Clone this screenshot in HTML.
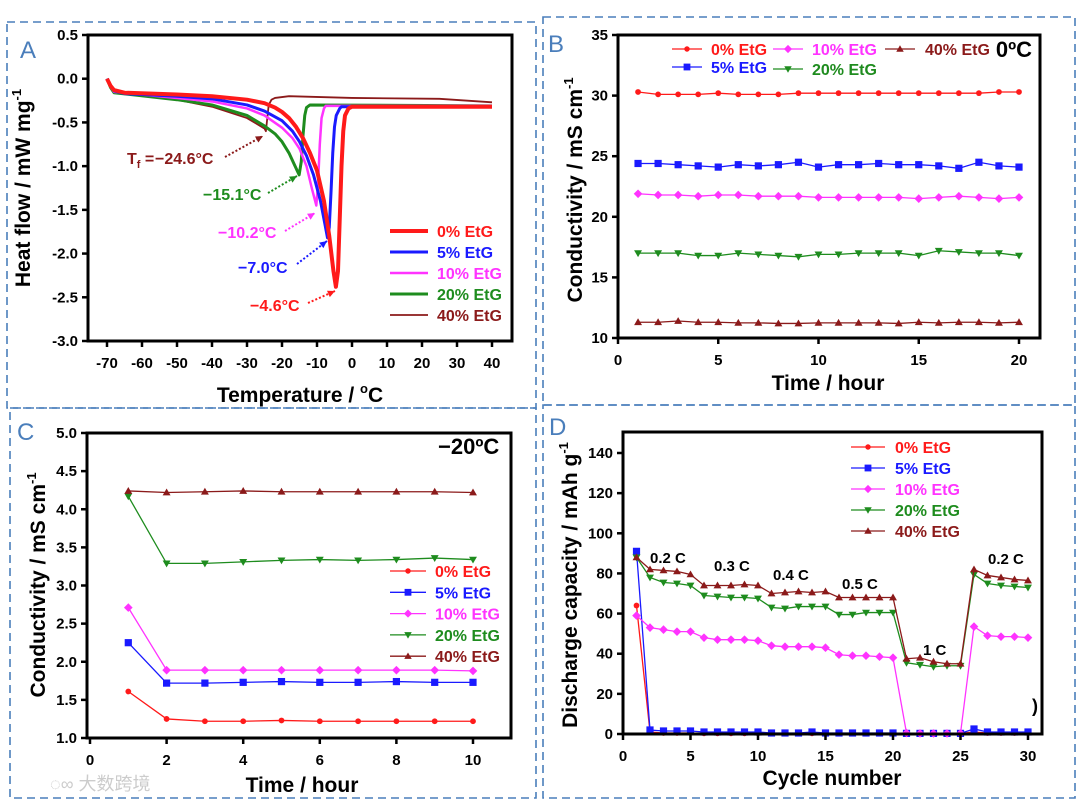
<!DOCTYPE html>
<html><head><meta charset="utf-8"><style>
html,body{margin:0;padding:0;background:#fff;}
svg{display:block;font-family:"Liberation Sans",Arial,sans-serif;}
</style></head><body>
<svg id="fig" width="1080" height="804" viewBox="0 0 1080 804" xmlns="http://www.w3.org/2000/svg">
<g fill="none" stroke="#4a7ebb" stroke-width="1.6" stroke-dasharray="8,5">
<rect x="7" y="22" width="529" height="386"/>
<rect x="543" y="17" width="532" height="388"/>
<rect x="10" y="408" width="526" height="390"/>
<rect x="543" y="405" width="532" height="393"/>
</g>
<g font-size="24" fill="#4a7ebb">
<text x="20" y="58">A</text>
<text x="548" y="52">B</text>
<text x="17" y="440">C</text>
<text x="549" y="435">D</text>
</g>
<text x="50" y="790" font-size="18" fill="#ccc" font-family="'Liberation Sans','Noto Sans CJK SC',sans-serif">◌∞ 大数跨境</text>
</svg>
<script>
// ---------- Panel A data (DSC) ----------
const aSeries = ["0% EtG","5% EtG","10% EtG","20% EtG","40% EtG"];
const aT0  = [-70,-69,-68,-65,-50,-40,-30,-25,-22,-20,-18,-16,-14,-12,-10,-8,-6.5,-5.3,-4.6,-4,-3.5,-3,-2.5,-2,-1,0,40];
const aH0  = [0,-0.08,-0.13,-0.16,-0.18,-0.2,-0.24,-0.28,-0.33,-0.38,-0.45,-0.55,-0.68,-0.85,-1.05,-1.4,-1.8,-2.2,-2.38,-2.2,-1.6,-1.0,-0.6,-0.42,-0.34,-0.32,-0.32];
const aT5  = [-70,-69,-68,-65,-50,-40,-30,-25,-20,-17,-15,-13,-11,-9,-7.8,-7,-6.5,-6,-5.5,-5,-4.5,-3.5,-3,40];
const aH5  = [0,-0.08,-0.14,-0.17,-0.2,-0.23,-0.3,-0.37,-0.48,-0.6,-0.72,-0.88,-1.1,-1.4,-1.65,-1.82,-1.7,-1.3,-0.85,-0.55,-0.42,-0.34,-0.32,-0.32];
const aT10 = [-70,-69,-68,-50,-40,-30,-25,-20,-17,-15,-13,-11.5,-10.2,-9.7,-9.2,-8.7,-8,-7.5,40];
const aH10 = [0,-0.09,-0.15,-0.22,-0.26,-0.34,-0.42,-0.56,-0.68,-0.8,-1.0,-1.25,-1.45,-1.2,-0.75,-0.45,-0.34,-0.31,-0.31];
const aT20 = [-70,-69,-68,-50,-40,-30,-25,-22,-20,-18,-16.5,-15.1,-14.5,-14,-13.5,-13,-12,40];
const aH20 = [0,-0.1,-0.16,-0.24,-0.3,-0.42,-0.54,-0.63,-0.72,-0.85,-0.98,-1.1,-0.95,-0.65,-0.42,-0.33,-0.3,-0.31];
const aT40 = [-70,-69,-68,-50,-40,-30,-25,-24.6,-24.2,-23.8,-23,-22,-18,0,25,40];
const aH40 = [0,-0.1,-0.16,-0.24,-0.32,-0.45,-0.57,-0.6,-0.45,-0.3,-0.24,-0.22,-0.2,-0.22,-0.23,-0.27];
const aXTicks = [-70,-60,-50,-40,-30,-20,-10,0,10,20,30,40];
const aYTicks = [0.5,0.0,-0.5,-1.0,-1.5,-2.0,-2.5,-3.0];
// ---------- Panel B data ----------
const bTime = [1,2,3,4,5,6,7,8,9,10,11,12,13,14,15,16,17,18,19,20];
const b0  = [30.3,30.1,30.1,30.1,30.2,30.1,30.1,30.1,30.2,30.2,30.2,30.2,30.2,30.2,30.2,30.2,30.2,30.2,30.3,30.3];
const b5  = [24.4,24.4,24.3,24.2,24.1,24.3,24.2,24.3,24.5,24.1,24.3,24.3,24.4,24.3,24.3,24.2,24.0,24.5,24.2,24.1];
const b10 = [21.9,21.8,21.8,21.7,21.8,21.8,21.7,21.7,21.7,21.6,21.6,21.6,21.6,21.6,21.5,21.6,21.7,21.6,21.5,21.6];
const b20 = [17.0,17.0,17.0,16.8,16.8,17.0,16.9,16.8,16.7,16.9,16.9,17.0,17.0,17.0,16.8,17.2,17.1,17.0,17.0,16.8];
const b40 = [11.3,11.3,11.4,11.3,11.3,11.25,11.25,11.2,11.2,11.25,11.25,11.25,11.25,11.2,11.3,11.25,11.3,11.3,11.25,11.3];
const bXTicks = [0,5,10,15,20];
const bYTicks = [10,15,20,25,30,35];
// ---------- Panel C data ----------
const cTime = [1,2,3,4,5,6,7,8,9,10];
const c0  = [1.61,1.25,1.22,1.22,1.23,1.22,1.22,1.22,1.22,1.22];
const c5  = [2.25,1.72,1.72,1.73,1.74,1.73,1.73,1.74,1.73,1.73];
const c10 = [2.71,1.89,1.89,1.89,1.89,1.89,1.89,1.89,1.89,1.88];
const c20 = [4.17,3.29,3.29,3.31,3.33,3.34,3.33,3.34,3.36,3.34];
const c40 = [4.24,4.22,4.23,4.24,4.23,4.23,4.23,4.23,4.23,4.22];
const cXTicks = [0,2,4,6,8,10];
const cYTicks = [1.0,1.5,2.0,2.5,3.0,3.5,4.0,4.5,5.0];
// ---------- Panel D data ----------
const dCycle = [1,2,3,4,5,6,7,8,9,10,11,12,13,14,15,16,17,18,19,20,21,22,23,24,25,26,27,28,29,30];
const d0  = [64,1,0.5,0.5,0.5,0.3,0.3,0.3,0.3,0.3,0.3,0.3,0.3,0.3,0.3,0.3,0.3,0.3,0.3,0.3,0.3,0.3,0.3,0.3,0.3,1,0.5,0.5,0.5,0.5];
const d5  = [91,2,1.5,1.5,1.5,1,1,1,1,1,0.5,0.5,0.5,1,0.5,0.5,0.5,0.5,0.5,0.5,0.3,0.3,0.3,0.3,0.3,2.5,1,1,1,1];
const d10 = [59,53,52,51,51,48,47,47,47,46.5,44,43.5,43.5,43.5,43,39.5,39,39,38.5,38,0.5,0.3,0.3,0.3,0.3,53.5,49,48.5,48.5,48];
const d20 = [88,78,75.5,75,74,69,68.5,68,68,67.5,63,62.5,63.5,63.5,63.5,59.5,59.5,60.5,60.5,60.5,35.5,34.5,33.5,34,34,79.5,75,74,73.5,73];
const d40 = [88,82,81.5,81,79.5,74,74,74,74.5,74,70,70.5,71,70.5,71,68,68,68,68,68,37.5,38,36,35,35,82,79,78,77,76.5];
const dXTicks = [0,5,10,15,20,25,30];
const dYTicks = [0,20,40,60,80,100,120,140];
const dRates = ["0.2 C","0.3 C","0.4 C","0.5 C","1 C","0.2 C"];

const NS = "http://www.w3.org/2000/svg";
const svg = document.getElementById("fig");
const COL = ["#ff1a1a","#1a1aff","#ff33ff","#1e8c1e","#8b1a1a"];
const MK = ["circle","square","diamond","down","up"];
function el(tag, attrs, parent){ const e=document.createElementNS(NS,tag); for(const k in attrs) e.setAttribute(k,attrs[k]); (parent||svg).appendChild(e); return e; }
function txt(s, attrs, parent){ const e=el("text",attrs,parent); e.textContent=s; return e; }
function scale(d0,d1,r0,r1){ return v => r0+(v-d0)*(r1-r0)/(d1-d0); }

function axes(g, box, xs, ys, xt, yt, fmtY, fmtX){
  const fr = el("rect",{x:box.x0,y:box.y0,width:box.x1-box.x0,height:box.y1-box.y0,fill:"none",stroke:"#000","stroke-width":3},g);
  
  
  xt.forEach(v=>{
    const x=xs(v);
    el("line",{x1:x,x2:x,y1:box.y1,y2:box.y1+6,stroke:"#000","stroke-width":2.5},g);
    const t=txt(fmtX?fmtX(v):String(v),{x:x,y:box.y1+27,"text-anchor":"middle","font-size":15,"font-weight":"bold"},g);
    
    
  });
  yt.forEach(v=>{
    const y=ys(v);
    el("line",{x1:box.x0-6,x2:box.x0,y1:y,y2:y,stroke:"#000","stroke-width":2.5},g);
    const t=txt(fmtY(v),{x:box.x0-10,y:y+5,"text-anchor":"end","font-size":15,"font-weight":"bold"},g);
    
    
  });
}
function marker(g,type,x,y,c,s){
  let m;
  if(type==="circle") m=el("circle",{cx:x,cy:y,r:s*0.8,fill:c},g);
  else if(type==="square") m=el("rect",{x:x-s,y:y-s,width:2*s,height:2*s,fill:c},g);
  else if(type==="diamond") m=el("polygon",{points:`${x},${y-s*1.2} ${x+s*1.2},${y} ${x},${y+s*1.2} ${x-s*1.2},${y}`,fill:c},g);
  else if(type==="down") m=el("polygon",{points:`${x-s*1.1},${y-s*0.8} ${x+s*1.1},${y-s*0.8} ${x},${y+s*1.1}`,fill:c},g);
  else m=el("polygon",{points:`${x-s*1.1},${y+s*0.8} ${x+s*1.1},${y+s*0.8} ${x},${y-s*1.1}`,fill:c},g);
  return m;
}
function series(g, xsArr, ysArr, xs, ys, i, name){
  const sg=el("g",{},g);
  
  
  el("polyline",{points:xsArr.map((v,k)=>xs(v)+","+ys(ysArr[k])).join(" "),fill:"none",stroke:COL[i],"stroke-width":1.3},sg);
  xsArr.forEach((v,k)=>{
    const m=marker(sg,MK[i],xs(v),ys(ysArr[k]),COL[i],3.6);
    
    
  });
}
function legendRow(g,x1,x2,tx,y,i,label,withMarker,lw){
  const lg=el("g",{},g);
  
  
  el("line",{x1:x1,x2:x2,y1:y,y2:y,stroke:COL[i],"stroke-width":lw||1.3},lg);
  if(withMarker) marker(lg,MK[i],(x1+x2)/2,y,COL[i],3.4);
  txt(label,{x:tx,y:y+6,"font-size":16,"font-weight":"bold",fill:COL[i]},lg);
}
function ytitle(g,s,x,y,sup){
  const t=el("text",{x:0,y:0,transform:`translate(${x},${y}) rotate(-90)`,"text-anchor":"middle","font-size":21,"font-weight":"bold"},g);
  t.textContent=s;
  const ts=el("tspan",{dy:-9,"font-size":13},t); ts.textContent=sup;
  
  
}
function xtitle(g,s,x,y,sup){
  const t=el("text",{x:x,y:y,"text-anchor":"middle","font-size":21,"font-weight":"bold"},g);
  t.textContent=s;
  if(sup){ const ts=el("tspan",{dy:-9,"font-size":13},t); ts.textContent=sup; const t2=el("tspan",{dy:9},t); t2.textContent="C"; }
  
  
}

// ===== Panel A =====
(function(){
  const g=el("g",{});  
  const box={x0:88,x1:512,y0:35,y1:341};
  const xs=scale(-70,40,107,492), ys=scale(0.5,-3.0,35,341);
  const Ts=[aT0,aT5,aT10,aT20,aT40], Hs=[aH0,aH5,aH10,aH20,aH40], W=[4,3,2.5,3,1.8];
  [4,3,2,1,0].forEach(i=>{
    const p=el("polyline",{points:Ts[i].map((v,k)=>xs(v)+","+ys(Hs[i][k])).join(" "),fill:"none",stroke:COL[i],"stroke-width":W[i],"stroke-linejoin":"round"},g);
    
    
  });
  axes(g,box,xs,ys,aXTicks,aYTicks,v=>v.toFixed(1));
  ytitle(g,"Heat flow / mW mg",30,188,"-1");
  xtitle(g,"Temperature / ",300,402,"o");
  aSeries.forEach((s,i)=>legendRow(g,390,428,437,231+i*21,i,s,false,[4,3,2.5,3,1.8][i]));
  const ann=[["−15.1°C",203,200,268,193,297,176,3],["−10.2°C",218,238,285,231,315,213,2],["−7.0°C",238,273,297,264,327,241,1],["−4.6°C",250,311,308,303,335,291,0],["−24.6°C",155,164,225,157,263,136,4]];
  ann.forEach(a=>{
    const ag=el("g",{},g);  
    txt(a[0],{x:a[1],y:a[2],"font-size":16,"font-weight":"bold",fill:COL[a[7]]},ag);
    el("line",{x1:a[3],y1:a[4],x2:a[5],y2:a[6],stroke:COL[a[7]],"stroke-width":2,"stroke-dasharray":"2,2"},ag);
    const ang=Math.atan2(a[6]-a[4],a[5]-a[3]);
    const bx=a[5],by=a[6],L=8;
    el("polygon",{points:`${bx},${by} ${bx-L*Math.cos(ang-0.45)},${by-L*Math.sin(ang-0.45)} ${bx-L*Math.cos(ang+0.45)},${by-L*Math.sin(ang+0.45)}`,fill:COL[a[7]]},ag);
  });
  const tf=txt("T",{x:127,y:164,"font-size":16,"font-weight":"bold",fill:COL[4]},g);
  const sub=el("tspan",{dy:4,"font-size":11},tf); sub.textContent="f";
  const eq=el("tspan",{dy:-4},tf); eq.textContent=" =";
   
})();

// ===== Panel B =====
(function(){
  const g=el("g",{});  
  const box={x0:618,x1:1040,y0:35,y1:338};
  const xs=scale(0,20,618,1019), ys=scale(10,35,338,35);
  [b0,b5,b10,b20,b40].forEach((d,i)=>series(g,bTime,d,xs,ys,i,"series-"+aSeries[i].replace("% EtG","pct")));
  axes(g,box,xs,ys,bXTicks,bYTicks,v=>String(v));
  ytitle(g,"Conductivity / mS cm",582,190,"-1");
  xtitle(g,"Time / hour",828,390);
  legendRow(g,672,702,711,49,0,"0% EtG",true);
  legendRow(g,672,702,711,67,1,"5% EtG",true);
  legendRow(g,773,803,812,49,2,"10% EtG",true);
  legendRow(g,773,803,812,69,3,"20% EtG",true);
  legendRow(g,885,915,925,49,4,"40% EtG",true);
  const t=txt("0ºC",{x:1032,y:57,"font-size":22,"font-weight":"bold","text-anchor":"end"},g);
   
})();

// ===== Panel C =====
(function(){
  const g=el("g",{});  
  const box={x0:87,x1:511,y0:433,y1:738};
  const xs=scale(0,10,90,473), ys=scale(1,5,738,433);
  [c0,c5,c10,c20,c40].forEach((d,i)=>series(g,cTime,d,xs,ys,i,"series-"+aSeries[i].replace("% EtG","pct")));
  axes(g,box,xs,ys,cXTicks,cYTicks,v=>v.toFixed(1));
  ytitle(g,"Conductivity / mS cm",45,585,"-1");
  xtitle(g,"Time / hour",302,792);
  aSeries.forEach((s,i)=>legendRow(g,390,426,435,571+i*21.3,i,s,true));
  const t=txt("−20ºC",{x:438,y:454,"font-size":22,"font-weight":"bold"},g);
   
})();

// ===== Panel D =====
(function(){
  const g=el("g",{});  
  const box={x0:623,x1:1042,y0:432,y1:734};
  const xs=scale(0,30,623,1028), ys=scale(0,140,734,453);
  [d0,d5,d10,d20,d40].forEach((d,i)=>series(g,dCycle,d,xs,ys,i,"series-"+aSeries[i].replace("% EtG","pct")));
  axes(g,box,xs,ys,dXTicks,dYTicks,v=>String(v));
  ytitle(g,"Discharge capacity / mAh g",577,585,"-1");
  xtitle(g,"Cycle number",832,785);
  aSeries.forEach((s,i)=>legendRow(g,851,885,895,447+i*21,i,s,true));
  const rx=[650,714,773,842,923,988], ry=[563,571,580,589,655,564];
  dRates.forEach((r,i)=>{ const t=txt(r,{x:rx[i],y:ry[i],"font-size":15,"font-weight":"bold"},g);   });
  txt(")",{x:1032,y:712,"font-size":18,"font-weight":"bold"},g);
})();
</script>
</body></html>
